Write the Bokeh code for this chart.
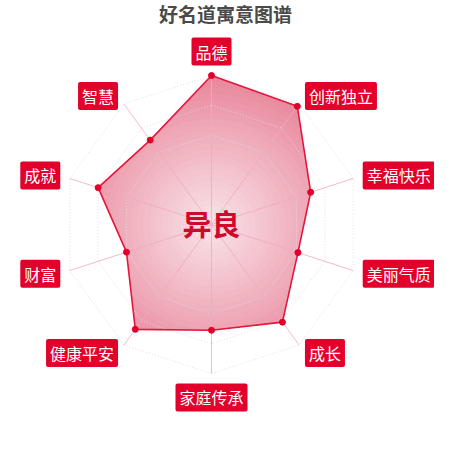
import numpy as np
from bokeh.plotting import figure
from bokeh.models import Label
from bokeh.core.properties import value
from bokeh.embed import file_html
from bokeh.resources import INLINE

title = "好名道寓意图谱"
name_text = "异良"
names = ["品德", "创新独立", "幸福快乐", "美丽气质", "成长",
         "家庭传承", "健康平安", "财富", "成就", "智慧"]
scores = [100, 98, 70, 61, 81, 71, 87, 60, 80, 70]
max_score = 100
levels = 5

FONT = "Noto Sans CJK SC"
RED = "#e3002b"

n = len(names)
theta = np.arange(n) * 2 * np.pi / n
r = np.array(scores) / max_score
px = r * np.sin(theta)
py = r * np.cos(theta)

p = figure(width=434, height=434, x_range=(-1.4161, 1.4966), y_range=(-1.4094, 1.5034),
           output_backend="svg", toolbar_location=None, min_border=0)
p.axis.visible = False
p.grid.visible = False
p.outline_line_color = None
p.background_fill_color = "white"


def poly_radius(t):
    # radius of the score polygon along the ray at angle t
    seg = int(t // (2 * np.pi / n)) % n
    a = np.array([px[seg], py[seg]])
    b = np.array([px[(seg + 1) % n], py[(seg + 1) % n]])
    e = b - a
    d = np.array([np.sin(t), np.cos(t)])
    cross = lambda u, v: u[0] * v[1] - u[1] * v[0]
    return cross(a, e) / cross(d, e)


ts = np.linspace(0, 2 * np.pi, n * 36 + 1)[:-1]
rho = np.array([poly_radius(t) for t in ts])

# radial gradient inside the score polygon
outer = np.array([233, 136, 157])
inner = np.array([250, 228, 233])
steps = 24
for k in range(steps):
    rk = 1.0 - k / steps
    f = rk ** 1.1
    c = inner + (outer - inner) * f
    rr = np.minimum(rho, rk)
    p.patch(rr * np.sin(ts), rr * np.cos(ts),
            fill_color="#%02x%02x%02x" % tuple(int(v) for v in c), line_color=None)

# split lines (rings)
for lv in range(1, levels + 1):
    rl = lv / levels
    xs = list(rl * np.sin(theta)) + [0]
    ys = list(rl * np.cos(theta)) + [rl]
    p.line(xs, ys, line_color="#e6d6da", line_dash="1 2", line_width=1, line_alpha=0.9)

# axis lines
for t in theta:
    p.line([0, np.sin(t)], [0, np.cos(t)], line_color="#f0aabb", line_width=1, line_alpha=0.8)

# score polygon outline and points
p.patch(px, py, fill_color=None, line_color="#e5173d", line_width=1.6)
p.scatter(px, py, size=6, color="#e0002a")

# indicator labels
lr = 1.067
lx = lr * np.sin(theta)
ly = lr * np.cos(theta)
aligns, baselines = [], []
for i in range(n):
    if i == 0:
        aligns.append("center"); baselines.append("bottom")
    elif i == n // 2:
        aligns.append("center"); baselines.append("top")
    elif i < n // 2:
        aligns.append("left"); baselines.append("middle")
    else:
        aligns.append("right"); baselines.append("middle")
p.text(x=lx, y=ly, text=names, text_align=aligns, text_baseline=baselines,
       text_font=value(FONT), text_font_size="16px", text_color="white",
       background_fill_color=RED, padding=[4, 2], border_radius=2)

# centre name
p.text(x=[0], y=[0.013], text=[name_text], text_align="center", text_baseline="middle",
       text_font=value(FONT), text_font_size="29px", text_font_style="bold",
       text_color="#d3062c")

p.add_layout(Label(x=225, y=421, x_units="screen", y_units="screen", text=title,
                   text_align="center", text_baseline="middle", text_font=FONT,
                   text_font_size="19px", text_font_style="bold", text_color="#4a4a4a"))

open("out.html", "w").write(file_html(p, INLINE))
